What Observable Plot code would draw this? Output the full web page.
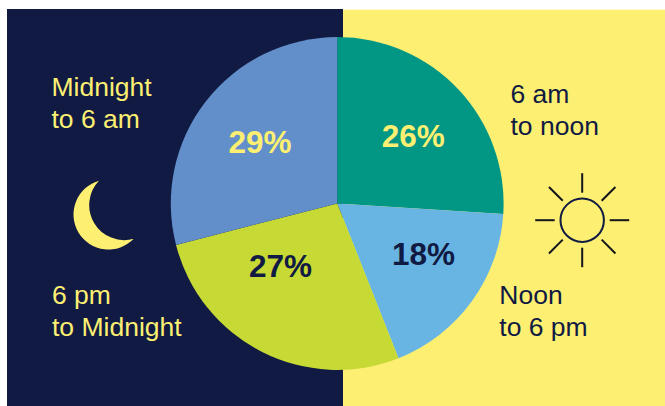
<!DOCTYPE html>
<html>
<head>
<meta charset="utf-8">
<style>
  html, body { margin: 0; padding: 0; background: #fff; }
  svg { display: block; }
</style>
<script src="https://cdn.jsdelivr.net/npm/d3@7"></script>
<script src="https://cdn.jsdelivr.net/npm/@observablehq/plot@0.6"></script>
</head>
<body>
<script>
// Share of the day's total by time period, clockwise from 12 o'clock.
const periods = ["6 am to noon", "Noon to 6 pm", "6 pm to Midnight", "Midnight to 6 am"];
const shares = [26, 18, 27, 29];

// Period captions, one per slice.
const captions = ["6 am\nto noon", "Noon\nto 6 pm", "6 pm\nto Midnight", "Midnight\nto 6 am"];

const navy = "#101a42";
const yellow = "#fcef72";
const sliceColors = ["#029684", "#68b5e3", "#c7d934", "#628fc9"];
const shareInk = [yellow, navy, navy, yellow];

// Layout in page units.
const pie = {cx: 337.2, cy: 203.5, r: 166.4};
const sun = {cx: 581.7, cy: 219.7, r: 21.7, rayFrom: 27.5, rayTo: 47};
const moon = {cx: 108, cy: 214, r: 35};
const captionAt = [[510, 134.7], [498.8, 335.7], [51.5, 335.7], [51, 127.7]];
const shareAt = [[412.7, 146.2], [423, 264.5], [280, 276.8], [259.5, 152.2]];
const rayAngles = [0, 45, 90, 135, 180, 225, 270, 315];

const slices = periods.map((period, i) => ({
  period,
  share: shares[i],
  caption: captions[i],
  color: sliceColors[i],
  ink: shareInk[i],
  captionX: captionAt[i][0],
  captionY: captionAt[i][1],
  shareX: shareAt[i][0],
  shareY: shareAt[i][1]
}));

// Crescent built from two overlapping circles, as a custom dot symbol.
const crescent = {
  draw(context, size) {
    const r = Math.sqrt(size / Math.PI);
    const rad = d => d * Math.PI / 180;
    const k = r / 35;
    context.arc(0, 0, r, rad(-105.3), rad(43.8), true);
    context.arc(15.7 * k, -9.4 * k, r, rad(74.1), rad(224.5), false);
    context.closePath();
  }
};

// Plot has no arc mark, so the wedges are drawn by a render mark that places
// d3.pie angles through the plot's x and y scales.
function pieSlices(index, {x, y}) {
  const arcs = d3.pie().sort(null).value(d => d.share)(slices);
  const radius = x(pie.cx + pie.r) - x(pie.cx);
  const path = d3.arc().innerRadius(0).outerRadius(radius);
  const g = d3.create("svg:g")
    .attr("transform", `translate(${x(pie.cx)},${y(pie.cy)})`);
  g.selectAll("path")
    .data(arcs)
    .join("path")
    .attr("d", path)
    .attr("fill", d => d.data.color);
  return g.node();
}

const rad = d => d * Math.PI / 180;

const chart = Plot.plot({
  width: 665,
  height: 406,
  margin: 0,
  style: {background: "transparent", fontFamily: "'Liberation Sans', Arial, sans-serif"},
  x: {domain: [0, 665], range: [0, 665], axis: null},
  y: {domain: [0, 406], range: [0, 406], axis: null},
  marks: [
    // Night and day panels behind the pie.
    Plot.rect([{x1: 7, x2: 343, y1: 9, y2: 406, fill: navy}, {x1: 343, x2: 665, y1: 9.7, y2: 406, fill: yellow}], {
      x1: "x1", x2: "x2", y1: "y1", y2: "y2", fill: d => d.fill
    }),
    pieSlices,
    // Moon.
    Plot.dot([moon], {x: "cx", y: "cy", r: moon.r, symbol: crescent, fill: yellow, stroke: "none"}),
    // Sun disc and rays.
    Plot.link(rayAngles, {
      x1: a => sun.cx + sun.rayFrom * Math.sin(rad(a)),
      y1: a => sun.cy - sun.rayFrom * Math.cos(rad(a)),
      x2: a => sun.cx + sun.rayTo * Math.sin(rad(a)),
      y2: a => sun.cy - sun.rayTo * Math.cos(rad(a)),
      stroke: "#14141e",
      strokeWidth: 2
    }),
    Plot.dot([sun], {x: "cx", y: "cy", r: sun.r, fill: "none", stroke: navy, strokeWidth: 2}),
    // Period captions.
    Plot.text(slices, {
      x: "captionX",
      y: "captionY",
      text: "caption",
      fill: (d, i) => (i < 2 ? navy : yellow),
      fontSize: 26.5,
      lineHeight: 1.21,
      textAnchor: "start",
      lineAnchor: "bottom"
    }),
    // Share labels.
    Plot.text(slices, {
      x: "shareX",
      y: "shareY",
      text: d => `${d.share}%`,
      fill: d => d.ink,
      fontSize: 31.5,
      fontWeight: "bold",
      textAnchor: "middle",
      lineAnchor: "bottom"
    })
  ]
});

document.body.append(chart);
</script>
</body>
</html>
